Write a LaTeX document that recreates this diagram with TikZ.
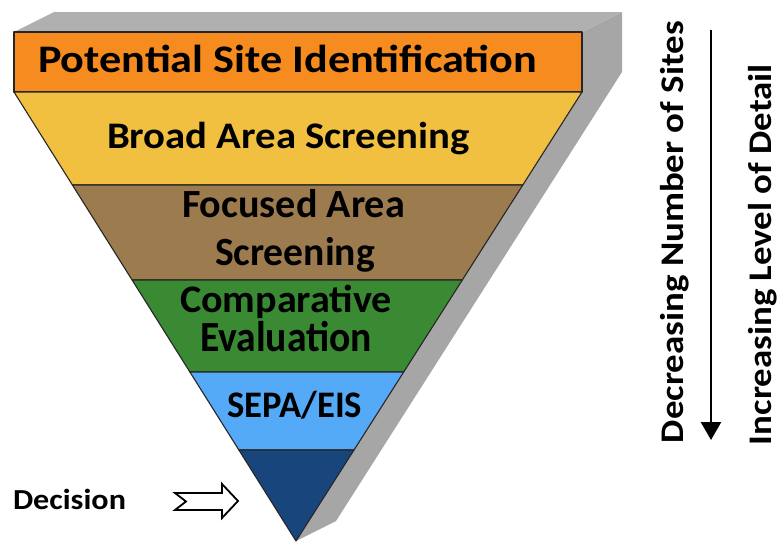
\documentclass[tikz,border=0pt]{standalone}
\usepackage{fontspec}
\setmainfont{Carlito}
\usetikzlibrary{arrows.meta}

% text set bold at a given size and stretched to a given width
\newcommand\fitw[3]{\resizebox{#1pt}{\height}{\fontsize{#2}{#2}\selectfont\bfseries #3}}

\definecolor{cOrange}{HTML}{F68B1F}
\definecolor{cYellow}{HTML}{F1C040}
\definecolor{cBrown}{HTML}{9C7B4F}
\definecolor{cGreen}{HTML}{3A8A34}
\definecolor{cLight}{HTML}{55AAF8}
\definecolor{cDark}{HTML}{18457C}
\definecolor{cSide}{HTML}{A6A6A6}
\definecolor{cTop}{HTML}{B0B0B0}

\tikzset{
  band/.style={draw=black!85, line width=1.1pt, line join=round},
  lbl/.style={inner sep=0pt, outer sep=0pt, anchor=base west, text=black},
}

\begin{document}
\begin{tikzpicture}[x=1pt, y=-1pt]
\useasboundingbox (0,0) rectangle (781,541);

% outline points of the funnel (front face)
\coordinate (tl) at (14,32);
\coordinate (tr) at (582,32);
\coordinate (ml) at (14,92);
\coordinate (mr) at (582,92);
\coordinate (tip) at (296,541);

% extruded back part
\fill[cSide] (tr) -- (622,12) -- (622,72) -- (336,521) -- (tip) -- (mr) -- cycle;
\fill[cTop] (tl) -- (54,12) -- (622,12) -- (tr) -- cycle;

% bands of the funnel, top to bottom
\path[band, fill=cOrange] (tl) rectangle (mr);
\path[band, fill=cYellow] (ml) -- (mr) -- (522.8,185) -- (72.4,185) -- cycle;
\path[band, fill=cBrown] (72.4,185) -- (522.8,185) -- (462.3,280) -- (132.1,280) -- cycle;
\path[band, fill=cGreen] (132.1,280) -- (462.3,280) -- (403.7,372) -- (189.9,372) -- cycle;
\path[band, fill=cLight] (189.9,372) -- (403.7,372) -- (354,450) -- (238.9,450) -- cycle;
\path[band, fill=cDark] (238.9,450) -- (354,450) -- (tip) -- cycle;

% band labels
\node[lbl] (pot) at (38,72) {\fitw{499}{39}{Potential Site Identification}};
\node[lbl] (broad) at (107,148) {\fitw{363}{37.5}{Broad Area Screening}};
\node[lbl] (foc1) at (182,217) {\fitw{223}{40}{Focused Area}};
\node[lbl] (foc2) at (215,265) {\fitw{160}{40}{Screening}};
\node[lbl] (cmp1) at (180,312) {\fitw{212}{39}{Comparative}};
\node[lbl] (cmp2) at (200,351) {\fitw{172}{43}{Evaluation}};
\node[lbl] (sepa) at (227,417) {\fitw{135}{37.5}{SEPA/EIS}};
\node[lbl] (dec) at (13,509) {\fitw{113}{29}{Decision}};

% hollow arrow pointing to the decision
\draw[line width=1.8pt, fill=white, line join=miter]
  (175,493) -- (222,493) -- (222,484) -- (238,501) -- (222,518)
  -- (222,510) -- (175,510) -- (186,501.5) -- cycle;

% side labels and arrow
\node[lbl, rotate=90] (sites) at (683,443) {\fitw{422}{33}{Decreasing Number of Sites}};
\node[lbl, rotate=90] (detail) at (771,445) {\fitw{381}{33}{Increasing Level of Detail}};
\coordinate (atop) at (711,30);
\coordinate (abot) at (711,440);
\draw[line width=2.6pt, -{Triangle[width=20pt,length=18pt]}] (atop) -- (abot);
\end{tikzpicture}
\end{document}
